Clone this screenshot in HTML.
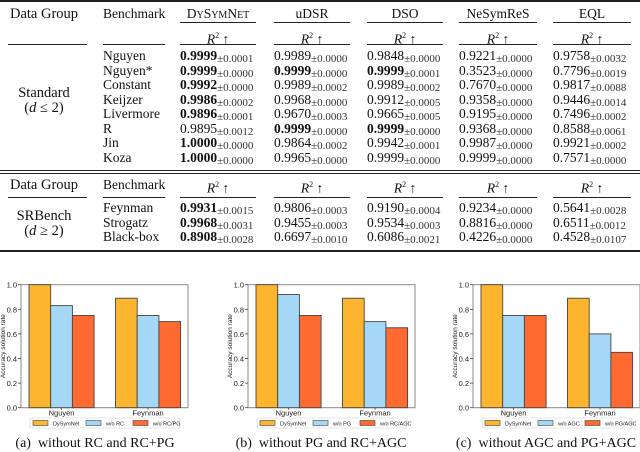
<!DOCTYPE html>
<html><head><meta charset="utf-8">
<style>
body{margin:0;width:640px;height:451px;background:#fff;position:relative;overflow:hidden;font-family:"Liberation Serif",serif;color:#111}
.t{position:absolute;white-space:nowrap;font-size:13.5px;line-height:14px}
.c{transform:translateX(-50%)}
.rule{position:absolute;background:#222}
sub{font-size:11px;vertical-align:-2px;line-height:0;color:#333}
b{font-weight:bold}
.cap{position:absolute;font-size:14px;white-space:nowrap;transform:translateX(-50%);top:436px}
</style></head><body>
<div class="rule" style="left:0;top:0;width:640px;height:2px"></div>
<div id="tbl"></div>
<svg id="charts" width="640" height="451" style="position:absolute;left:0;top:0" font-family="Liberation Sans, sans-serif"></svg>
<div class="cap" style="left:95px">(a)&nbsp; without RC and RC+PG</div>
<div class="cap" style="left:321px">(b)&nbsp; without PG and RC+AGC</div>
<div class="cap" style="left:546px">(c)&nbsp; without AGC and PG+AGC</div>
<script>
const methods=["DySymNet","uDSR","DSO","NeSymReS","EQL"];
const colX=[218,312,405,498,592];
const colL=[180,274,367,459,553];
const benchStd=["Nguyen","Nguyen*","Constant","Keijzer","Livermore","R","Jin","Koza"];
const benchSR=["Feynman","Strogatz","Black-box"];
const vals=[
["**0.9999|0.0001","0.9989|0.0000","0.9848|0.0000","0.9221|0.0000","0.9758|0.0032"],
["**0.9999|0.0000","**0.9999|0.0000","**0.9999|0.0001","0.3523|0.0000","0.7796|0.0019"],
["**0.9992|0.0000","0.9989|0.0002","0.9989|0.0002","0.7670|0.0000","0.9817|0.0088"],
["**0.9986|0.0002","0.9968|0.0000","0.9912|0.0005","0.9358|0.0000","0.9446|0.0014"],
["**0.9896|0.0001","0.9670|0.0003","0.9665|0.0005","0.9195|0.0000","0.7496|0.0002"],
["0.9895|0.0012","**0.9999|0.0000","**0.9999|0.0000","0.9368|0.0000","0.8588|0.0061"],
["**1.0000|0.0000","0.9864|0.0002","0.9942|0.0001","0.9987|0.0000","0.9921|0.0002"],
["**1.0000|0.0000","0.9965|0.0000","0.9999|0.0000","0.9999|0.0000","0.7571|0.0000"],
["**0.9931|0.0015","0.9806|0.0003","0.9190|0.0004","0.9234|0.0000","0.5641|0.0028"],
["**0.9968|0.0031","0.9455|0.0003","0.9534|0.0003","0.8816|0.0000","0.6511|0.0012"],
["**0.8908|0.0028","0.6697|0.0010","0.6086|0.0021","0.4226|0.0000","0.4528|0.0107"]];
const T=document.getElementById('tbl');
function txt(x,y,html,cls,name){const d=document.createElement('div');d.className='t '+(cls||'');d.style.left=x+'px';d.style.top=y+'px';d.innerHTML=html;


T.appendChild(d);return d;}
function rule(x,y,w,h,name){const d=document.createElement('div');d.className='rule';d.style.left=x+'px';d.style.top=y+'px';d.style.width=w+'px';d.style.height=(h||1)+'px';


T.appendChild(d);}
txt(44,7,'<span style="font-size:14.5px">Data Group</span>','c','header-data-group');
txt(103,7,'Benchmark','','header-benchmark');
methods.forEach((m,i)=>{
  const h=i==0?'D<span style="font-size:10px">Y</span>S<span style="font-size:10px">YM</span>N<span style="font-size:10px">ET</span>':m;
  txt(colX[i],7,h,'c','header-'+m.toLowerCase());
  rule(colL[i],22,colX[i]*2-colL[i]*2,1,'cmidrule-'+m.toLowerCase());
  txt(colX[i],29,'<i>R</i><sup style="font-size:8px">2</sup> ↑','c','r2-header-'+i);
  rule(colL[i],44,colX[i]*2-colL[i]*2,1,'cmidrule2-'+i);
  txt(colX[i],178,'<i>R</i><sup style="font-size:8px">2</sup> ↑','c','r2-header-sr-'+i);
  rule(colL[i],197,colX[i]*2-colL[i]*2,1,'cmidrule3-'+i);
});
rule(8,44,79,1,'cmidrule-group');rule(103,44,62,1,'cmidrule-bench');
rule(8,197,79,1,'cmidrule-group2');rule(103,197,62,1,'cmidrule-bench2');
rule(0,170,640,1,'double-rule-a');rule(0,173,640,1,'double-rule-b');
rule(0,250,640,2,'bottom-rule');
txt(44,86,'<span style="font-size:14.5px">Standard</span>','c','group-standard');
txt(44,101,'<span style="font-size:14.5px">(<i>d</i> ≤ 2)</span>','c','group-standard-cond');
txt(44,178,'<span style="font-size:14.5px">Data Group</span>','c','header-data-group-2');
txt(103,178,'Benchmark','','header-benchmark-2');
txt(44,209,'<span style="font-size:14.5px">SRBench</span>','c','group-srbench');
txt(44,224,'<span style="font-size:14.5px">(<i>d</i> ≥ 2)</span>','c','group-srbench-cond');
const rowsY=[49,63.5,78,92.5,107,121.5,136,150.5,201,215.5,230];
const benches=benchStd.concat(benchSR);
benches.forEach((b,r)=>{
  txt(103,rowsY[r],b,'','bench-'+b.toLowerCase());
  vals[r].forEach((v,i)=>{
    let bold=v.startsWith('**');if(bold)v=v.slice(2);
    const [m,s]=v.split('|');
    txt(colL[i],rowsY[r],(bold?'<b>'+m+'</b>':m)+'<sub>±'+s+'</sub>','','cell-'+r+'-'+i);
  });
});

// charts
const groups=["Nguyen","Feynman"];
const seriesA=[[1.0,0.89],[0.83,0.75],[0.75,0.70]];
const seriesB=[[1.0,0.89],[0.92,0.70],[0.75,0.65]];
const seriesC=[[1.0,0.89],[0.75,0.60],[0.75,0.45]];
const legendA=["DySymNet","w/o RC","w/o RC/PG"];
const legendB=["DySymNet","w/o PG","w/o RC/AGC"];
const legendC=["DySymNet","w/o AGC","w/o PG/AGC"];
const yTicks=[0,0.2,0.4,0.6,0.8,1.0];
const colors=["#fdb52f","#a5d8f7","#ff6a30"];
const S=document.getElementById('charts');const NS='http://www.w3.org/2000/svg';
function el(tag,attrs,parent){const e=document.createElementNS(NS,tag);for(const k in attrs)e.setAttribute(k,attrs[k]);(parent||S).appendChild(e);return e;}
function chart(ox,series,leg,id){
  const g=el('g',{});
  
  
  const L=ox+21,R=ox+188,Y0=407.7,Y1=284.7;
  const y=v=>Y0-(v/1.0)*(Y0-Y1);
  const bw=21.7;const gx=[ox+29,ox+115.5];
  el('rect',{x:L,y:Y1,width:R-L,height:Y0-Y1,fill:'#fff',stroke:'#888','stroke-width':1},g);
  yTicks.forEach(t=>{
    el('line',{x1:L-3,x2:L,y1:y(t),y2:y(t),stroke:'#444','stroke-width':0.8},g);
    const tx=el('text',{x:L-4,y:y(t)+3,'font-size':7.5,'text-anchor':'end',fill:'#222'},g);tx.textContent=t.toFixed(1);
    
    
  });
  const yt=el('text',{x:0,y:0,'font-size':6.5,'text-anchor':'middle',fill:'#222',transform:`translate(${ox+5},${(Y0+Y1)/2}) rotate(-90)`},g);
  yt.textContent='Accuracy solution rate';
  
  
  series.forEach((s,si)=>s.forEach((v,gi)=>{
    const r=el('rect',{x:gx[gi]+si*bw,y:y(v),width:bw,height:Y0-y(v),fill:colors[si],stroke:'#444','stroke-width':0.9},g);
    
    
  }));
  groups.forEach((n,gi)=>{
    const cx=gx[gi]+bw*1.5;
    el('line',{x1:cx,x2:cx,y1:Y0,y2:Y0+2,stroke:'#444','stroke-width':0.8},g);
    const tx=el('text',{x:cx,y:Y0+8,'font-size':7.5,'text-anchor':'middle',fill:'#222'},g);tx.textContent=n;
    
    
  });
  const lg=el('g',{},g);
  
  
  el('rect',{x:ox+30,y:418,width:150,height:10,fill:'#fff',stroke:'#ccc','stroke-width':0.6,rx:1.5},lg);
  const lx=[ox+33,ox+86,ox+133];
  leg.forEach((n,i)=>{
    el('rect',{x:lx[i],y:420.5,width:15,height:5,fill:colors[i],stroke:'#444','stroke-width':0.6},lg);
    const tx=el('text',{x:lx[i]+20,y:425.5,'font-size':5.5,fill:'#222'},lg);tx.textContent=n;
    
    
  });
}
chart(0,seriesA,legendA,'a');
chart(227,seriesB,legendB,'b');
chart(452,seriesC,legendC,'c');
</script>
</body></html>
